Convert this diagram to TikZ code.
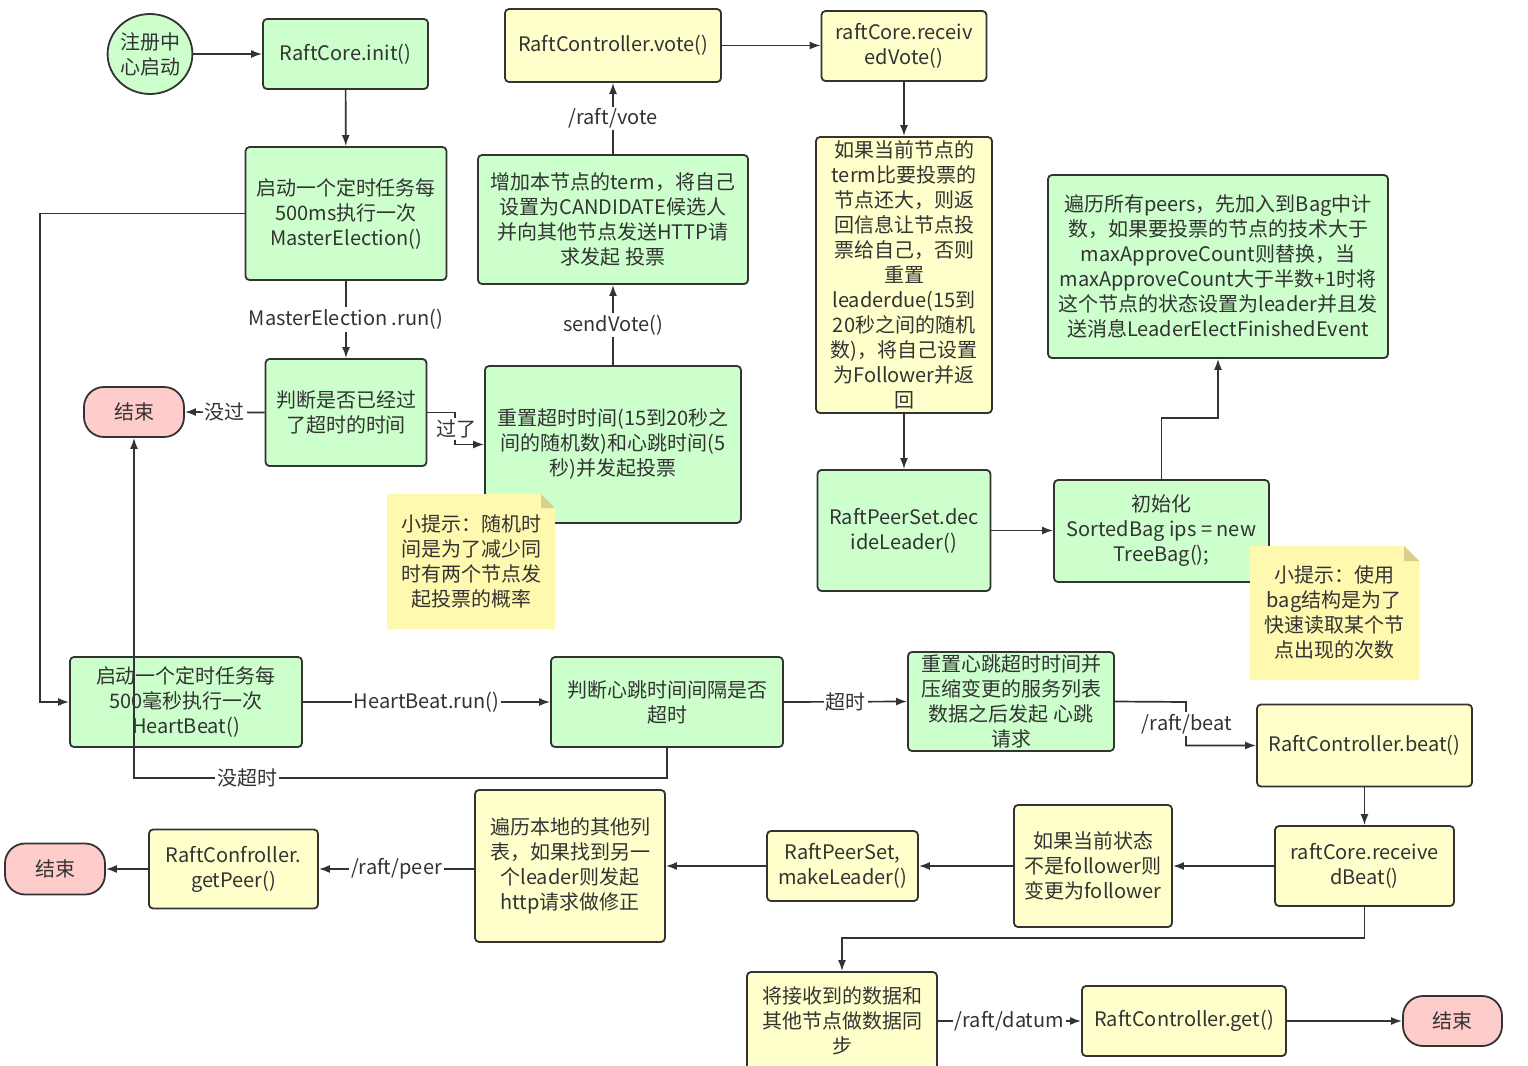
\documentclass[tikz,border=0pt]{standalone}
\usepackage{fontspec}
\setmainfont{Noto Sans CJK SC}
\usetikzlibrary{arrows.meta,shapes.geometric}
\definecolor{gfill}{HTML}{CCFFCC}
\definecolor{yfill}{HTML}{FFFFCC}
\definecolor{pfill}{HTML}{FFCCCC}
\definecolor{notecol}{HTML}{FFF9B0}
\definecolor{foldcol}{HTML}{D8D08C}
\definecolor{edge}{HTML}{333333}
\definecolor{txt}{HTML}{333333}
\begin{document}
\begin{tikzpicture}[x=0.5pt,y=-0.5pt,
  every node/.style={font=\fontsize{10}{12.5}\selectfont, text=txt},
  base/.style={draw=edge, line width=0.9pt, rounded corners=2pt, align=center, inner sep=1pt},
  gbox/.style={base, fill=gfill},
  ybox/.style={base, fill=yfill},
  endbox/.style={base, fill=pfill, rounded corners=10pt},
  notetext/.style={align=center, inner sep=0pt},
  arr/.style={draw=edge, line width=0.85pt, -{Latex[length=5.5pt,width=4pt]}},
  lbl/.style={fill=white, inner sep=1pt},
]
\useasboundingbox (0,0) rectangle (1528,1066);
\fill[white] (0,0) rectangle (1528,1066);

% ---------- nodes ----------
\node[base, ellipse, fill=gfill, minimum width=41pt, minimum height=40pt, inner sep=0pt] (start) at (150,54) {注册中\\心启动};
\node[gbox, minimum width=82.5pt, minimum height=35pt] (init) at (345.5,54) {RaftCore.init()};
\node[gbox, minimum width=100.5pt, minimum height=66.5pt] (master) at (346,213.5) {启动一个定时任务每\\500ms执行一次\\MasterElection()};
\node[gbox, minimum width=80.5pt, minimum height=53.5pt] (judge) at (346,412.5) {判断是否已经过\\了超时的时间};
\node[endbox, minimum width=50pt, minimum height=25pt] (end1) at (134,412) {结束};
\node[gbox, minimum width=128pt, minimum height=78.5pt] (reset) at (613,444.5) {重置超时时间(15到20秒之\\间的随机数)和心跳时间(5\\秒)并发起投票};
\node[gbox, minimum width=135pt, minimum height=64.5pt] (incr) at (613,219.5) {增加本节点的term，将自己\\设置为CANDIDATE候选人\\并向其他节点发送HTTP请\\求发起 投票};
\node[ybox, minimum width=108pt, minimum height=36.5pt] (vote) at (613,45.5) {RaftController.vote()};
\node[ybox, minimum width=82.5pt, minimum height=35pt] (recvVote) at (904,46) {raftCore.receiv\\edVote()};
\node[ybox, minimum width=88pt, minimum height=138pt, inner sep=0pt] (ifterm) at (904,275) {如果当前节点的\\term比要投票的\\节点还大，则返\\回信息让节点投\\票给自己，否则\\重置\\leaderdue(15到\\20秒之间的随机\\数)，将自己设置\\为Follower并返\\回};
\node[gbox, minimum width=86.5pt, minimum height=60.5pt] (decide) at (904,530.5) {RaftPeerSet.dec\\ideLeader()};
\node[gbox, minimum width=107.5pt, minimum height=51pt] (initbag) at (1161.5,531) {初始化\\SortedBag ips = new\\TreeBag();};
\node[gbox, minimum width=170pt, minimum height=91.5pt] (traverse) at (1218,266.5) {遍历所有peers，先加入到Bag中计\\数，如果要投票的节点的技术大于\\maxApproveCount则替换，当\\maxApproveCount大于半数+1时将\\这个节点的状态设置为leader并且发\\送消息LeaderElectFinishedEvent};

% note 1
\fill[notecol] (387,494) -- (541,494) -- (555,508) -- (555,629) -- (387,629) -- cycle;
\fill[foldcol] (541,494) -- (555,508) -- (541,508) -- cycle;
\node[notetext] (note1) at (471,561) {小提示：随机时\\间是为了减少同\\时有两个节点发\\起投票的概率};
% note 2
\fill[notecol] (1250,546) -- (1404,546) -- (1419,561) -- (1419,680) -- (1250,680) -- cycle;
\fill[foldcol] (1404,546) -- (1419,561) -- (1404,561) -- cycle;
\node[notetext] (note2) at (1334,612.5) {小提示：使用\\bag结构是为了\\快速读取某个节\\点出现的次数};

\node[gbox, minimum width=116pt, minimum height=45pt] (hb) at (186,702) {启动一个定时任务每\\500毫秒执行一次\\HeartBeat()};
\node[gbox, minimum width=116pt, minimum height=45pt] (hbjudge) at (667,702) {判断心跳时间间隔是否\\超时};
\node[gbox, minimum width=103pt, minimum height=49.5pt, inner sep=0pt] (hbreset) at (1011,701.5) {重置心跳超时时间并\\压缩变更的服务列表\\数据之后发起 心跳\\请求};
\node[ybox, minimum width=107.5pt, minimum height=41pt] (beat) at (1364.5,745.5) {RaftController.beat()};
\node[ybox, minimum width=89.5pt, minimum height=40pt] (recvBeat) at (1364.5,866) {raftCore.receive\\dBeat()};
\node[ybox, minimum width=79pt, minimum height=61pt] (iffollower) at (1093,866) {如果当前状态\\不是follower则\\变更为follower};
\node[ybox, minimum width=75.5pt, minimum height=35pt] (makeLeader) at (842.5,866) {RaftPeerSet,\\makeLeader()};
\node[ybox, minimum width=95pt, minimum height=76pt] (travLocal) at (570,866) {遍历本地的其他列\\表，如果找到另一\\个leader则发起\\http请求做修正};
\node[ybox, minimum width=84.5pt, minimum height=39.5pt] (getPeer) at (233.5,869) {RaftConfroller.\\getPeer()};
\node[endbox, minimum width=50pt, minimum height=25.5pt] (end2) at (55,869) {结束};
\node[ybox, minimum width=95pt, minimum height=49pt] (sync) at (842,1021) {将接收到的数据和\\其他节点做数据同\\步};
\node[ybox, minimum width=102pt, minimum height=35pt] (get) at (1184,1021) {RaftController.get()};
\node[endbox, minimum width=49.5pt, minimum height=25pt] (end3) at (1452.5,1021) {结束};

% ---------- bend coordinates ----------
\coordinate (cLoop) at (40,213.5);
\coordinate (cPast) at (455,412.5);
\coordinate (cNoTO) at (134,778);
\coordinate (cBeat) at (1186,702);
\coordinate (cBag) at (1218,418);
\coordinate (cSync) at (842,938);

% ---------- connectors ----------
\draw[arr] (start) -- (init);
\draw[arr] (init) -- (master);
\draw[arr] (master.south) -- node[lbl]{MasterElection .run()} (judge.north);
\draw[arr] (master.west) -- (cLoop) |- (hb.west);
\draw[arr] (judge.west) -- node[lbl]{没过} (end1.east);
\draw[arr] (judge.east) -- (cPast) |- (reset.west);
\node[lbl] (lblPast) at (456,429) {过了};
\draw[arr] (reset.north) -- node[lbl]{sendVote()} (incr.south);
\draw[arr] (incr.north) -- node[lbl]{/raft/vote} (vote.south);
\draw[arr] (vote.east) -- (vote.east -| recvVote.west);
\draw[arr] (recvVote.south) -- (ifterm.north);
\draw[arr] (ifterm.south) -- (decide.north);
\draw[arr] (decide.east) -- (decide.east -| initbag.west);
\draw[arr] (initbag.north) |- (cBag) -- (traverse.south);

\draw[arr] (hb.east) -- node[lbl]{HeartBeat.run()} (hbjudge.west);
\draw[arr] (hbjudge.south) |- (cNoTO) -- (end1.south);
\node[lbl] (lblNoTO) at (247,778) {没超时};
\draw[arr] (hbjudge.east) -- node[lbl]{超时} (hbreset.west);
\draw[arr] (hbreset.east) -- (cBeat) |- (beat.west);
\node[lbl] (lblBeat) at (1187,724) {/raft/beat};
\draw[arr] (beat.south) -- (recvBeat.north);
\draw[arr] (recvBeat.west) -- (iffollower.east);
\draw[arr] (iffollower.west) -- (makeLeader.east);
\draw[arr] (makeLeader.west) -- (travLocal.east);
\draw[arr] (travLocal.west |- getPeer.east) -- node[lbl]{/raft/peer} (getPeer.east);
\draw[arr] (getPeer.west) -- (end2.east);
\draw[arr] (recvBeat.south) |- (cSync) -- (sync.north);
\draw[arr] (sync.east) -- node[lbl]{/raft/datum} (get.west);
\draw[arr] (get.east) -- (end3.west);
\end{tikzpicture}
\end{document}
